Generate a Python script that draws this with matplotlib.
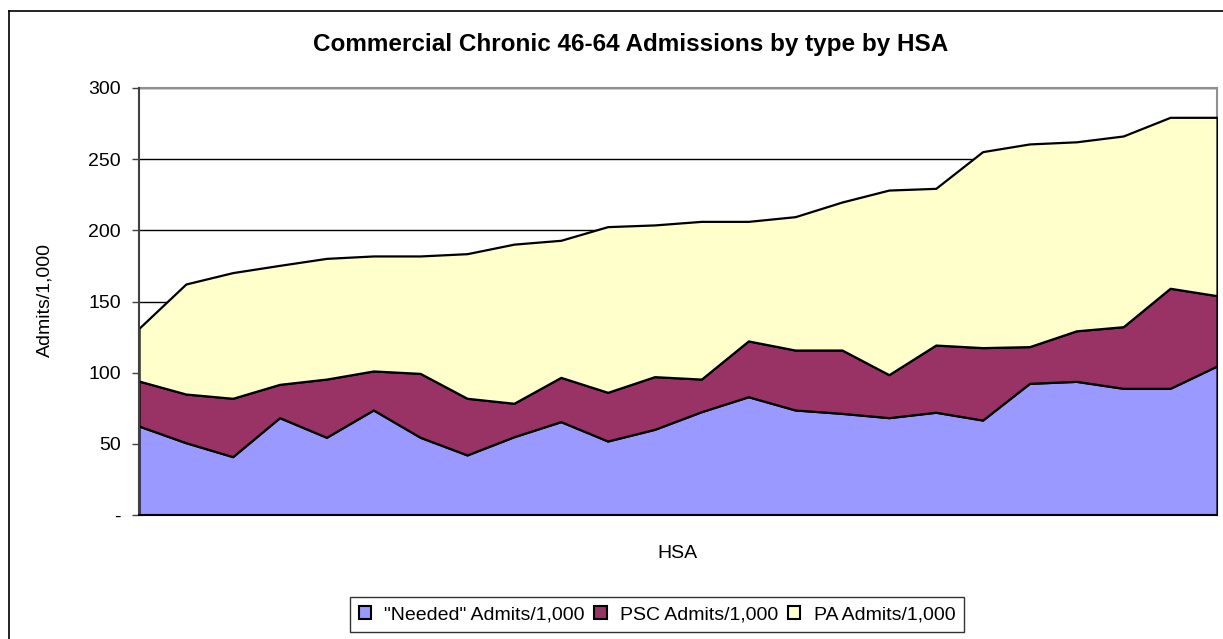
import matplotlib
matplotlib.use("Agg")
import matplotlib.pyplot as plt
from matplotlib.lines import Line2D
import numpy as np

plt.rcParams['font.family'] = ['Liberation Sans', 'DejaVu Sans']

title = "Commercial Chronic 46-64 Admissions by type by HSA"
series_names = ['"Needed" Admits/1,000', 'PSC Admits/1,000', 'PA Admits/1,000']
colors = ['#9999FF', '#993366', '#FFFFCC']

needed = [62.5, 50.8, 41.0, 68.4, 54.6, 73.8, 54.6, 42.2, 55.0, 65.6, 52.0, 60.2,
          72.6, 83.1, 73.8, 71.4, 68.4, 72.2, 66.7, 92.5, 93.9, 89.0, 89.0, 104.7]
psc = [31.6, 34.2, 41.0, 23.4, 40.9, 27.4, 44.9, 39.8, 23.5, 31.1, 34.2, 37.0,
       22.9, 39.2, 42.1, 44.5, 30.2, 47.2, 50.9, 25.8, 35.5, 43.3, 70.3, 49.4]
pa = [37.1, 77.3, 88.3, 83.6, 84.8, 80.8, 82.5, 101.6, 111.8, 96.3, 116.4, 106.6,
      110.8, 84.0, 93.7, 104.0, 129.7, 110.1, 137.7, 142.4, 132.8, 134.0, 120.1, 125.3]

yticks = [0, 50, 100, 150, 200, 250, 300]
ytick_labels = ['-', '50', '100', '150', '200', '250', '300']

W, H = 1223, 639
fig = plt.figure(figsize=(W / 100, H / 100), dpi=100)
fig.patch.set_facecolor('white')

# outer chart frame (cropped on right and bottom)
fig.add_artist(Line2D([9 / W, 9 / W], [0, 1 - 11 / H], transform=fig.transFigure,
                      color='black', lw=1.2))
fig.add_artist(Line2D([9 / W, 1], [1 - 11 / H, 1 - 11 / H], transform=fig.transFigure,
                      color='black', lw=1.2))

left, right, top, bottom = 139, 1217, 88, 515
ax = fig.add_axes([left / W, 1 - bottom / H, (right - left) / W, (bottom - top) / H])

x = np.arange(len(needed))
ax.stackplot(x, needed, psc, pa, colors=colors, edgecolor='black', linewidth=1.6,
             labels=series_names, zorder=3)

ax.set_xlim(0, len(needed) - 1)
ax.set_ylim(0, 300)
ax.set_yticks(yticks)
ax.set_yticklabels(ytick_labels, fontsize=14)
ax.set_xticks([])
ax.yaxis.grid(True, color='black', linewidth=1.0, zorder=1)
ax.set_axisbelow(True)
ax.tick_params(axis='y', direction='out', length=5, width=1, color='#404040', pad=8)

for s in ['top', 'right']:
    ax.spines[s].set_color('#909090')
    ax.spines[s].set_linewidth(1.5)
ax.spines['left'].set_color('#404040')
ax.spines['left'].set_linewidth(1.5)
ax.spines['bottom'].set_color('black')
ax.spines['bottom'].set_linewidth(1.5)
ax.spines['left'].set_zorder(5)
ax.spines['bottom'].set_zorder(5)

fig.text(631 / W, 1 - 45 / H, title, ha='center', va='center', fontsize=17.5, fontweight='bold')
fig.text(45 / W, 1 - 300 / H, 'Admits/1,000', ha='center', va='center', rotation=90, fontsize=14)
fig.text(677 / W, 1 - 553 / H, 'HSA', ha='center', va='center', fontsize=14)

leg = fig.legend(loc='center', bbox_to_anchor=(657 / W, 1 - 614.5 / H), ncol=3,
                 fontsize=14, frameon=True, fancybox=False, edgecolor='black',
                 handlelength=0.62, handleheight=0.62, handletextpad=0.7,
                 columnspacing=0.5, borderpad=0.45, borderaxespad=0)
leg.get_frame().set_linewidth(1.0)
for h in leg.legend_handles:
    h.set_edgecolor('black')
    h.set_linewidth(1.5)

fig.savefig('out.png', dpi=100, facecolor='white')
